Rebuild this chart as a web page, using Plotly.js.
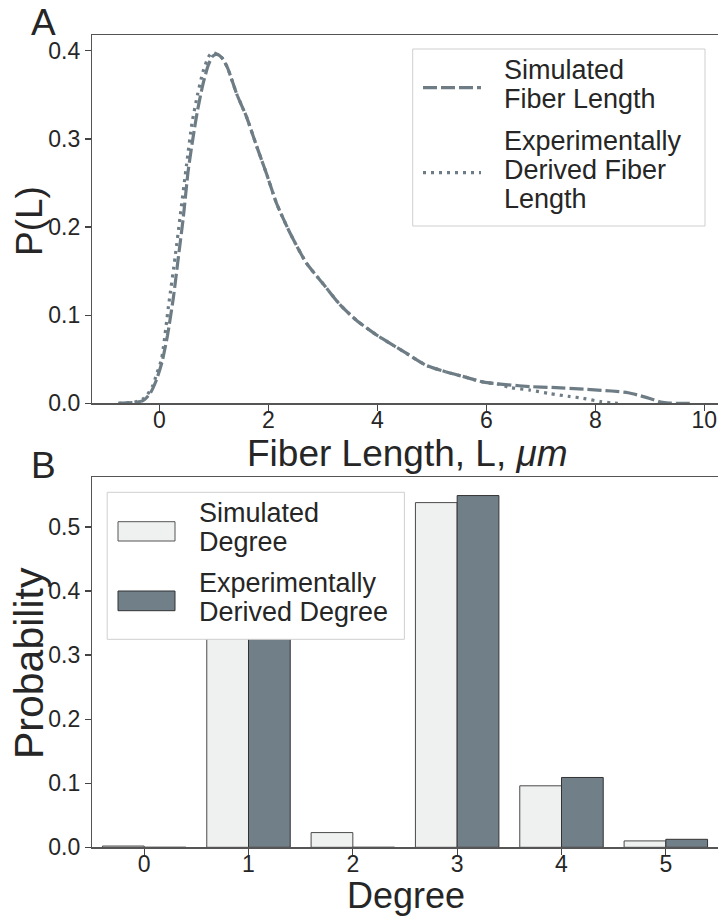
<!DOCTYPE html>
<html>
<head>
<meta charset="utf-8">
<script src="https://cdn.plot.ly/plotly-3.0.1.min.js"></script>
<style>html,body{margin:0;padding:0;background:#fff;}#chart{width:718px;height:920px;}</style>
</head>
<body>
<div id="chart"></div>
<script>
// ---- Panel A: fiber length distributions (KDE curves) ----
const simLengthX = [-0.75, -0.6, -0.45, -0.3, -0.17, -0.05, 0.05, 0.15, 0.26, 0.35, 0.44, 0.53, 0.62, 0.70, 0.80, 0.90, 0.98, 1.06, 1.15, 1.25, 1.42, 1.60, 1.79, 1.97, 2.15, 2.40, 2.70, 3.00, 3.30, 3.62, 4.00, 4.50, 4.90, 5.30, 5.60, 5.95, 6.40, 6.80, 7.20, 7.80, 8.30, 8.60, 8.80, 9.00, 9.20, 9.35, 9.75];
const simLengthP = [0, 0.0005, 0.001, 0.003, 0.011, 0.027, 0.047, 0.077, 0.121, 0.166, 0.211, 0.264, 0.302, 0.332, 0.362, 0.384, 0.394, 0.396, 0.392, 0.381, 0.351, 0.325, 0.291, 0.260, 0.227, 0.193, 0.159, 0.136, 0.113, 0.094, 0.077, 0.058, 0.043, 0.035, 0.030, 0.024, 0.021, 0.019, 0.018, 0.016, 0.014, 0.012, 0.009, 0.0055, 0.0015, 0.0003, 0];
const expLengthX = [-0.75, -0.6, -0.45, -0.3, -0.23, -0.12, -0.05, 0.04, 0.17, 0.29, 0.38, 0.50, 0.60, 0.70, 0.80, 0.90, 0.97, 1.06, 1.15, 1.25, 1.42, 1.60, 1.79, 1.97, 2.15, 2.40, 2.70, 3.00, 3.30, 3.62, 4.00, 4.50, 4.90, 5.30, 5.60, 5.95, 6.20, 6.43, 6.80, 7.17, 7.50, 7.78, 8.09, 8.30, 8.45];
const expLengthP = [0, 0.0005, 0.0015, 0.005, 0.009, 0.020, 0.033, 0.050, 0.111, 0.166, 0.211, 0.271, 0.318, 0.350, 0.376, 0.393, 0.398, 0.396, 0.392, 0.381, 0.351, 0.325, 0.291, 0.260, 0.227, 0.193, 0.159, 0.136, 0.113, 0.094, 0.077, 0.058, 0.043, 0.035, 0.030, 0.024, 0.022, 0.018, 0.015, 0.011, 0.008, 0.0057, 0.002, 0.0005, 0];
const lengthTicks = [0, 2, 4, 6, 8, 10];
const probTicksA = [0, 0.1, 0.2, 0.3, 0.4];

// ---- Panel B: degree distributions ----
const degrees = [0, 1, 2, 3, 4, 5];
const simDegreeP = [0.002, 0.331, 0.023, 0.538, 0.096, 0.010];
const expDegreeP = [0, 0.329, 0, 0.549, 0.109, 0.0125];
const probTicksB = [0, 0.1, 0.2, 0.3, 0.4, 0.5];

// ---- Labels ----
const legendA = [['Simulated', 'Fiber Length'], ['Experimentally', 'Derived Fiber', 'Length']];
const legendB = [['Simulated', 'Degree'], ['Experimentally', 'Derived Degree']];

const lineColor = '#6e7d85';
const darkBar = '#717f88';
const lightBar = '#eff0f0';
const FONT = 'Arial, "Liberation Sans", sans-serif';
const txt = '#262626';
const W = 718, H = 920, ML = 92;
const px = v => (v - ML) / (W - ML);      // pixel x -> paper x
const py = v => 1 - v / H;                // pixel y -> paper y

const traces = [
  {x: simLengthX, y: simLengthP, type: 'scatter', mode: 'lines', name: 'Simulated Fiber Length', showlegend: false,
   line: {color: lineColor, width: 3.2, dash: '14px,4px', shape: 'spline', smoothing: 0.6}, xaxis: 'x', yaxis: 'y'},
  {x: expLengthX, y: expLengthP, type: 'scatter', mode: 'lines', name: 'Experimentally Derived Fiber Length', showlegend: false,
   line: {color: lineColor, width: 3.2, dash: '3px,5px', shape: 'spline', smoothing: 0.6}, xaxis: 'x', yaxis: 'y'},
  {x: degrees, y: simDegreeP, type: 'bar', name: 'Simulated Degree', showlegend: false,
   marker: {color: lightBar, line: {color: '#4a4a4a', width: 1}}, xaxis: 'x2', yaxis: 'y2'},
  {x: degrees, y: expDegreeP, type: 'bar', name: 'Experimentally Derived Degree', showlegend: false,
   marker: {color: darkBar, line: {color: '#333333', width: 1}}, xaxis: 'x2', yaxis: 'y2'}
];

const axisCommon = {
  showgrid: false, zeroline: false, showline: true, linecolor: '#555', linewidth: 1.2,
  ticks: 'outside', ticklen: 6, tickwidth: 1.2, tickcolor: '#444',
  tickfont: {family: FONT, size: 23, color: txt}, automargin: false
};

// annotations: text lines (centre y = baseline - 0.347*size)
const ann = [];
function textAt(text, x, yBase, size, opts) {
  ann.push(Object.assign({text: text, xref: 'paper', yref: 'paper', x: px(x), y: py(yBase - 0.347 * size),
    showarrow: false, xanchor: 'left', yanchor: 'middle', font: {family: FONT, size: size, color: txt}}, opts || {}));
}
// panel letters
textAt('A', 43, 35, 37, {xanchor: 'center'});
textAt('B', 43, 478, 37, {xanchor: 'center'});
// axis titles
textAt('Fiber Length, L, <i>μm</i>', 407, 466, 37, {xanchor: 'center'});
textAt('Degree', 406, 908, 36, {xanchor: 'center'});
ann.push({text: 'P(L)', xref: 'paper', yref: 'paper', x: px(29), y: py(221), textangle: -90, showarrow: false,
  xanchor: 'center', yanchor: 'middle', font: {family: FONT, size: 37, color: txt}});
ann.push({text: 'Probability', xref: 'paper', yref: 'paper', x: px(29), y: py(663), textangle: -90, showarrow: false,
  xanchor: 'center', yanchor: 'middle', font: {family: FONT, size: 41, color: txt}});
// legend texts
const legBaseA = [[79.3, 108.3], [150, 179, 208.3]];
legendA.forEach((lines, i) => lines.forEach((t, j) => textAt(t, 502, legBaseA[i][j], 27)));
const legBaseB = [[522.7, 551.7], [592.7, 621.7]];
legendB.forEach((lines, i) => lines.forEach((t, j) => textAt(t, 197, legBaseB[i][j], 27)));

const shapes = [
  // legend frames
  {type: 'rect', xref: 'paper', yref: 'paper', x0: px(412.7), x1: px(705), y0: py(49), y1: py(226),
   line: {color: '#cfcfcf', width: 1}, fillcolor: '#ffffff'},
  {type: 'rect', xref: 'paper', yref: 'paper', x0: px(107.2), x1: px(404.4), y0: py(492.3), y1: py(639.3),
   line: {color: '#cfcfcf', width: 1}, fillcolor: '#ffffff'},
  // legend keys
  {type: 'line', xref: 'paper', yref: 'paper', x0: px(423), x1: px(481), y0: py(87.7), y1: py(87.7),
   line: {color: lineColor, width: 3.2, dash: '14px,4px'}},
  {type: 'line', xref: 'paper', yref: 'paper', x0: px(423), x1: px(481), y0: py(172.7), y1: py(172.7),
   line: {color: lineColor, width: 3.2, dash: '3px,5px'}},
  {type: 'rect', xref: 'paper', yref: 'paper', x0: px(118), x1: px(175), y0: py(521.7), y1: py(541),
   line: {color: '#555555', width: 1}, fillcolor: lightBar},
  {type: 'rect', xref: 'paper', yref: 'paper', x0: px(118), x1: px(175), y0: py(591), y1: py(610.7),
   line: {color: '#333333', width: 1}, fillcolor: darkBar}
];

const layout = {
  width: W, height: H,
  margin: {l: ML, r: 0, t: 0, b: 0},
  paper_bgcolor: '#ffffff', plot_bgcolor: '#ffffff',
  font: {family: FONT, color: txt},
  showlegend: false,
  barmode: 'group', bargap: 0.2, bargroupgap: 0,
  xaxis: Object.assign({}, axisCommon, {
    domain: [0, 1], anchor: 'y', range: [-1.235, 10.25], tickvals: lengthTicks, mirror: true, ticklabelstandoff: -10
  }),
  yaxis: Object.assign({}, axisCommon, {
    domain: [0.5616, 0.962], anchor: 'x', range: [0, 0.418], tickvals: probTicksA, tickformat: '.1f'
  }),
  xaxis2: Object.assign({}, axisCommon, {
    domain: [0, 1], anchor: 'y2', range: [-0.5, 5.5], tickvals: degrees, mirror: true, ticklabelstandoff: -10
  }),
  yaxis2: Object.assign({}, axisCommon, {
    domain: [0.079, 0.4812], anchor: 'x2', range: [0, 0.5775], tickvals: probTicksB, tickformat: '.1f'
  }),
  shapes: shapes,
  annotations: ann
};

Plotly.newPlot('chart', traces, layout, {displayModeBar: false, staticPlot: true});
</script>
</body>
</html>
